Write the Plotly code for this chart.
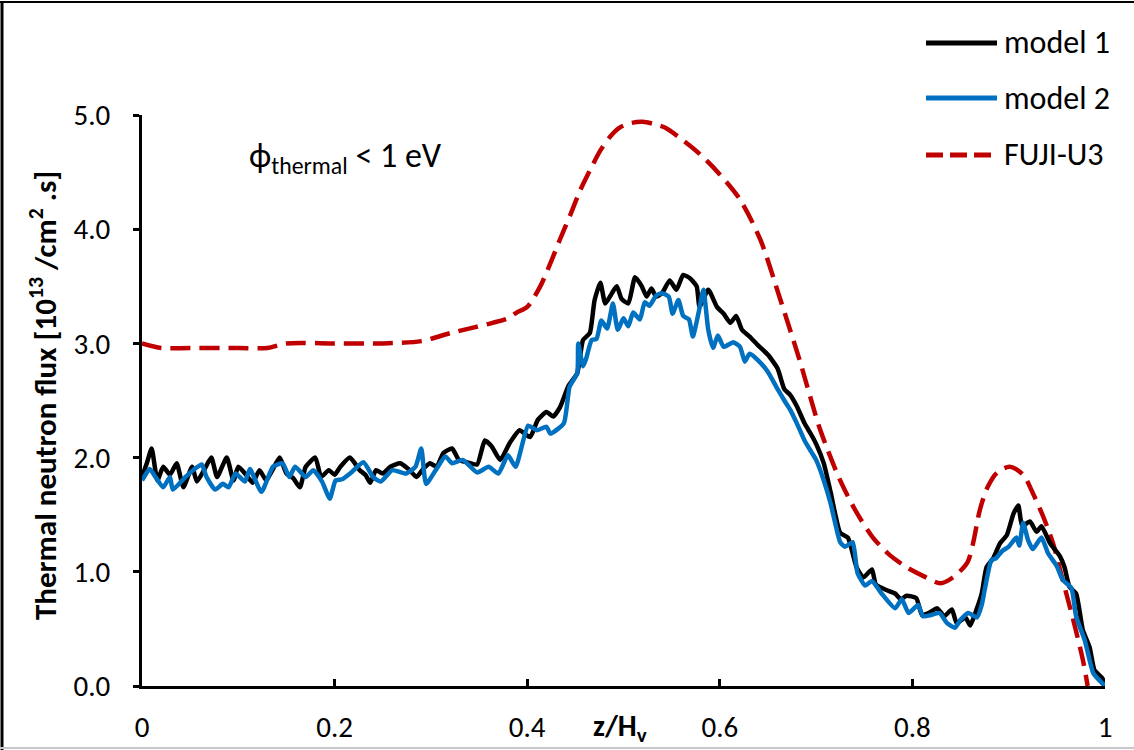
import plotly.graph_objects as go

# Axial position (z/Hv) and thermal neutron flux [1e13 /cm2.s]
z_model1 = [0, 0.005, 0.01, 0.016, 0.022, 0.029, 0.036, 0.043, 0.052, 0.057,
            0.065, 0.072, 0.078, 0.088, 0.095, 0.1, 0.108, 0.115, 0.122, 0.129,
            0.136, 0.143, 0.15, 0.157, 0.164, 0.17, 0.18, 0.186, 0.194, 0.2,
            0.206, 0.216, 0.226, 0.232, 0.237, 0.243, 0.25, 0.258, 0.268, 0.278,
            0.285, 0.292, 0.299, 0.306, 0.313, 0.322, 0.329, 0.337, 0.348, 0.356,
            0.363, 0.372, 0.382, 0.392, 0.403, 0.411, 0.42, 0.427, 0.434, 0.443,
            0.452, 0.458, 0.465, 0.47, 0.476, 0.481, 0.488, 0.493, 0.498, 0.505,
            0.512, 0.519, 0.524, 0.529, 0.534, 0.54, 0.548, 0.555, 0.562, 0.569,
            0.576, 0.579, 0.588, 0.597, 0.604, 0.611, 0.617, 0.623, 0.631, 0.64,
            0.65, 0.66, 0.667, 0.673, 0.68, 0.688, 0.695, 0.7, 0.708, 0.715,
            0.72, 0.725, 0.733, 0.742, 0.749, 0.758, 0.762, 0.773, 0.782, 0.788,
            0.794, 0.804, 0.81, 0.817, 0.826, 0.833, 0.841, 0.846, 0.855, 0.86,
            0.867, 0.872, 0.877, 0.884, 0.891, 0.898, 0.905, 0.91, 0.914, 0.922,
            0.929, 0.934, 0.943, 0.953, 0.958, 0.963, 0.97, 0.977, 0.984, 0.989,
            0.997, 1.0]
flux_model1 = [1.83, 1.95, 2.08, 1.80, 1.92, 1.85, 1.95, 1.74, 1.92, 1.79,
               1.90, 2.00, 1.83, 2.00, 1.80, 1.92, 1.85, 1.78, 1.89, 1.80,
               1.90, 2.00, 1.86, 1.82, 1.74, 1.92, 2.00, 1.83, 1.89, 1.85,
               1.92, 2.00, 1.89, 1.85, 1.78, 1.89, 1.86, 1.92, 1.95, 1.89,
               1.83, 1.90, 1.95, 1.92, 2.04, 2.08, 1.98, 1.96, 1.94, 2.15,
               2.10, 1.98, 2.13, 2.24, 2.18, 2.33, 2.40, 2.36, 2.44, 2.63,
               2.74, 3.03, 3.09, 3.38, 3.53, 3.35, 3.44, 3.50, 3.39, 3.35,
               3.58, 3.50, 3.41, 3.48, 3.41, 3.44, 3.55, 3.47, 3.60, 3.57,
               3.50, 3.32, 3.47, 3.32, 3.26, 3.18, 3.24, 3.12, 3.06, 2.98,
               2.90, 2.78, 2.60, 2.55, 2.45, 2.30, 2.20, 2.12, 1.95, 1.70,
               1.50, 1.34, 1.30, 1.04, 0.95, 1.02, 0.89, 0.84, 0.81, 0.76,
               0.79, 0.77, 0.62, 0.64, 0.68, 0.61, 0.67, 0.55, 0.60, 0.53,
               0.68, 0.81, 1.04, 1.12, 1.25, 1.32, 1.51, 1.58, 1.40, 1.44,
               1.35, 1.40, 1.25, 1.14, 1.04, 0.87, 0.81, 0.49, 0.34, 0.14,
               0.07, 0.02]

z_model2 = [0, 0.008, 0.014, 0.022, 0.029, 0.032, 0.045, 0.053, 0.062, 0.067,
            0.076, 0.084, 0.09, 0.097, 0.107, 0.112, 0.124, 0.136, 0.146, 0.153,
            0.159, 0.17, 0.178, 0.187, 0.195, 0.201, 0.208, 0.216, 0.23, 0.24,
            0.248, 0.26, 0.274, 0.284, 0.29, 0.295, 0.305, 0.315, 0.322, 0.333,
            0.348, 0.36, 0.37, 0.38, 0.388, 0.401, 0.41, 0.42, 0.424, 0.438,
            0.444, 0.452, 0.453, 0.458, 0.461, 0.467, 0.472, 0.477, 0.483, 0.489,
            0.494, 0.5, 0.505, 0.51, 0.517, 0.522, 0.527, 0.534, 0.54, 0.547,
            0.551, 0.557, 0.562, 0.568, 0.572, 0.578, 0.583, 0.588, 0.593, 0.598,
            0.604, 0.614, 0.621, 0.626, 0.631, 0.64, 0.65, 0.66, 0.667, 0.673,
            0.68, 0.688, 0.695, 0.7, 0.708, 0.715, 0.72, 0.725, 0.73, 0.738,
            0.743, 0.751, 0.758, 0.768, 0.782, 0.789, 0.796, 0.806, 0.811, 0.819,
            0.828, 0.836, 0.844, 0.85, 0.858, 0.867, 0.872, 0.875, 0.882, 0.887,
            0.893, 0.9, 0.908, 0.911, 0.915, 0.92, 0.925, 0.934, 0.941, 0.95,
            0.956, 0.965, 0.97, 0.979, 0.988, 1.0]
flux_model2 = [1.80, 1.90, 1.83, 1.74, 1.83, 1.72, 1.83, 1.89, 1.94, 1.83,
               1.72, 1.77, 1.74, 1.86, 1.79, 1.90, 1.70, 1.92, 1.95, 1.83,
               1.92, 1.83, 1.89, 1.79, 1.64, 1.80, 1.81, 1.86, 1.96, 1.83,
               1.79, 1.89, 1.86, 1.92, 2.08, 1.77, 1.89, 2.01, 1.95, 1.98,
               1.87, 1.92, 1.86, 2.02, 1.92, 2.28, 2.24, 2.27, 2.21, 2.30,
               2.62, 2.74, 3.00, 2.80, 2.86, 3.03, 3.04, 3.20, 3.13, 3.35,
               3.12, 3.22, 3.15, 3.27, 3.21, 3.36, 3.33, 3.42, 3.44, 3.41,
               3.26, 3.38, 3.24, 3.21, 3.06, 3.27, 3.47, 3.12, 2.96, 3.07,
               2.97, 3.01, 2.97, 2.84, 2.91, 2.85, 2.75, 2.60, 2.50, 2.42,
               2.30, 2.15, 2.05, 1.98, 1.80, 1.60, 1.42, 1.26, 1.22, 1.26,
               0.99, 0.88, 0.92, 0.81, 0.68, 0.76, 0.64, 0.71, 0.61, 0.62,
               0.64, 0.55, 0.51, 0.58, 0.64, 0.60, 0.71, 0.84, 1.10, 1.12,
               1.18, 1.22, 1.30, 1.23, 1.43, 1.28, 1.20, 1.30, 1.16, 1.05,
               0.93, 0.86, 0.61, 0.40, 0.11, 0.00]

z_fuji = [0, 0.02, 0.05, 0.1, 0.13, 0.15, 0.2, 0.25, 0.29, 0.32,
          0.345, 0.364, 0.38, 0.389, 0.4, 0.413, 0.424, 0.434, 0.445, 0.455,
          0.466, 0.476, 0.486, 0.496, 0.508, 0.52, 0.532, 0.543, 0.56, 0.579,
          0.6, 0.621, 0.642, 0.663, 0.683, 0.704, 0.725, 0.742, 0.759, 0.776,
          0.794, 0.812, 0.829, 0.842, 0.857, 0.863, 0.87, 0.878, 0.888, 0.901,
          0.915, 0.925, 0.936, 0.946, 0.956, 0.967, 0.977, 0.982]
flux_fuji = [3.00, 2.96, 2.96, 2.96, 2.96, 3.00, 3.00, 3.00, 3.02, 3.09,
             3.14, 3.18, 3.22, 3.27, 3.32, 3.49, 3.70, 3.91, 4.13, 4.34,
             4.53, 4.69, 4.81, 4.89, 4.93, 4.94, 4.92, 4.89, 4.79, 4.66,
             4.48, 4.26, 3.91, 3.38, 2.85, 2.25, 1.80, 1.52, 1.30, 1.15,
             1.04, 0.96, 0.90, 0.95, 1.08, 1.25, 1.54, 1.74, 1.87, 1.92,
             1.85, 1.69, 1.48, 1.25, 0.93, 0.58, 0.23, 0.00]

x_ticks = [0, 0.2, 0.4, 0.6, 0.8, 1.0]
y_ticks = [0, 1, 2, 3, 4, 5]

assert len(z_model1) == len(flux_model1)
assert len(z_model2) == len(flux_model2)
assert len(z_fuji) == len(flux_fuji)

FONT = "Carlito, Lato, sans-serif"
COL_M1 = "#000000"
COL_M2 = "#0070C0"
COL_FUJI = "#C00000"
RED_DASH = "20px,9px"
LW = 4.5

# plot-area pixel geometry used to place paper-referenced decorations
W, H = 1134, 750
L, R, T, B = 142, 29, 115, 64
PW, PH = W - L - R, H - T - B


def px(xp):
    return (xp - L) / PW


def py(yp):
    return (H - B - yp) / PH


fig = go.Figure()
fig.add_trace(go.Scatter(x=z_fuji, y=flux_fuji, mode="lines", name="FUJI-U3",
                         line=dict(color=COL_FUJI, width=LW, dash=RED_DASH,
                                   shape="spline", smoothing=0.8)))
fig.add_trace(go.Scatter(x=z_model1, y=flux_model1, mode="lines", name="model 1",
                         line=dict(color=COL_M1, width=LW, shape="spline", smoothing=0.5)))
fig.add_trace(go.Scatter(x=z_model2, y=flux_model2, mode="lines", name="model 2",
                         line=dict(color=COL_M2, width=LW, shape="spline", smoothing=0.5)))

fig.update_xaxes(range=[0, 1], tickvals=x_ticks, showgrid=False, zeroline=False,
                 automargin=False,
                 showline=True, linecolor="black", linewidth=3,
                 ticks="inside", ticklen=7, tickwidth=3, tickcolor="black",
                 ticklabelstandoff=13,
                 tickfont=dict(family=FONT, size=29, color="black"))
fig.update_yaxes(range=[0, 5], tickvals=y_ticks, tickformat=".1f", showgrid=False,
                 automargin=False,
                 zeroline=False, showline=True, linecolor="black", linewidth=3,
                 ticks="outside", ticklen=6, tickwidth=3, tickcolor="black",
                 ticklabelstandoff=17,
                 tickfont=dict(family=FONT, size=29, color="black"))

shapes = [
    # outer frame
    dict(type="line", xref="paper", yref="paper", x0=px(0), x1=px(W), y0=py(2), y1=py(2),
         line=dict(color="black", width=2)),
    dict(type="line", xref="paper", yref="paper", x0=px(2), x1=px(2), y0=py(1), y1=py(H),
         line=dict(color="black", width=3)),
    dict(type="line", xref="paper", yref="paper", x0=px(0), x1=px(W), y0=py(748), y1=py(748),
         line=dict(color="#c8c8c8", width=2)),
]

legend_rows = [("model 1", COL_M1, "solid", 43), ("model 2", COL_M2, "solid", 98),
               ("FUJI-U3", COL_FUJI, "17px,7px", 155)]
annotations = []
for label, color, dash, ypix in legend_rows:
    x1 = 997 if dash == "solid" else 991
    shapes.append(dict(type="line", xref="paper", yref="paper",
                       x0=px(926), x1=px(x1), y0=py(ypix), y1=py(ypix),
                       line=dict(color=color, width=5, dash=dash)))
    annotations.append(dict(xref="paper", yref="paper", x=px(1002), y=py(ypix),
                            xanchor="left", yanchor="middle", showarrow=False,
                            text=label, font=dict(family=FONT, size=32, color="black")))

annotations += [
    dict(xref="paper", yref="paper", x=px(247), y=py(157), xanchor="left",
         yanchor="middle", showarrow=False,
         text="ϕ<sub>thermal</sub> < 1 eV", font=dict(family=FONT, size=34, color="black")),
    dict(xref="paper", yref="paper", x=px(43), y=py(396), textangle=-90,
         xanchor="center", yanchor="middle", showarrow=False,
         text="<b>Thermal neutron flux [10<sup>13</sup> /cm<sup>2</sup> .s]</b>",
         font=dict(family=FONT, size=31, color="black")),
    dict(xref="paper", yref="paper", x=px(620), y=py(727), xanchor="center",
         yanchor="middle", showarrow=False,
         text="<b>z/H<sub>v</sub></b>", font=dict(family=FONT, size=30, color="black")),
]

fig.update_layout(width=W, height=H, autosize=False, margin=dict(l=L, r=R, t=T, b=B),
                  paper_bgcolor="white", plot_bgcolor="white", showlegend=False,
                  shapes=shapes, annotations=annotations)

fig.write_html("out.html", config={"responsive": False})
